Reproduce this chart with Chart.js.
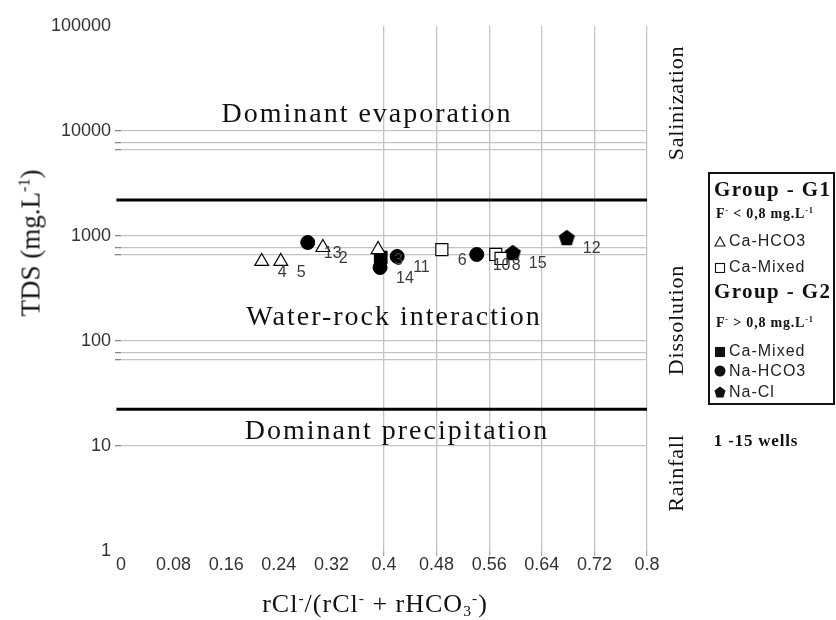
<!DOCTYPE html>
<html><head><meta charset="utf-8">
<script src="https://cdn.jsdelivr.net/npm/chart.js@4"></script>
<style>
html,body{margin:0;padding:0;background:#fff;}
#wrap{position:relative;width:836px;height:620px;overflow:hidden;background:#fff;}
#c{position:absolute;left:0;top:0;}
.t{position:absolute;font-family:"Liberation Serif","Times New Roman",serif;color:#111;white-space:nowrap;line-height:1;transform:translate(-50%,-50%);}
.r{transform:translate(-50%,-50%) rotate(-90deg);}
sup,sub{font-size:0.6em;line-height:0;}
sup{vertical-align:0.6em;}
sub{vertical-align:-0.25em;}
#legend{position:absolute;left:708px;top:172px;width:127px;height:233px;border:2px solid #111;box-sizing:border-box;}
.lg{position:absolute;left:4px;white-space:nowrap;line-height:1;color:#111;}
.lgb{font-family:"Liberation Serif",serif;font-weight:bold;}
.lgs{font-family:"Liberation Sans",Arial,sans-serif;font-size:16px;letter-spacing:1px;color:#222;}
.lgs svg{vertical-align:-1px;margin-right:3px;}
</style></head>
<body>
<div id="wrap">
<canvas id="c" width="836" height="620"></canvas>
<div class="t" style="left:367px;top:113px;font-size:28px;letter-spacing:2px;">Dominant evaporation</div>
<div class="t" style="left:394px;top:316px;font-size:28px;letter-spacing:2px;">Water-rock interaction</div>
<div class="t" style="left:397px;top:430px;font-size:28px;letter-spacing:2px;">Dominant precipitation</div>
<div class="t r" style="left:676px;top:103px;font-size:22px;letter-spacing:0.8px;">Salinization</div>
<div class="t r" style="left:676px;top:320px;font-size:22px;letter-spacing:0.8px;">Dissolution</div>
<div class="t r" style="left:676px;top:473px;font-size:22px;letter-spacing:0.8px;">Rainfall</div>
<div class="t r" style="left:31px;top:243px;font-size:27px;">TDS (mg.L<sup>-1</sup>)</div>
<div class="t" style="left:375px;top:604px;font-size:26px;letter-spacing:1px;">rCl<sup>-</sup>/(rCl<sup>-</sup> + rHCO<sub>3</sub><sup>-</sup>)</div>
<div id="legend">
  <div class="lg lgb" style="top:5px;font-size:21px;letter-spacing:1.4px;">Group - G1</div>
  <div class="lg lgb" style="top:33px;font-size:14px;left:6px;letter-spacing:0.8px;">F<sup>-</sup> &lt; 0,8 mg.L<sup>-1</sup></div>
  <div class="lg lgs" style="top:59px;"><svg width="12" height="11"><polygon points="6,1 11,10 1,10" fill="none" stroke="#111" stroke-width="1.1"/></svg>Ca-HCO3</div>
  <div class="lg lgs" style="top:85px;"><svg width="12" height="11"><rect x="1.5" y="1.5" width="9" height="9" fill="none" stroke="#111" stroke-width="1.1"/></svg>Ca-Mixed</div>
  <div class="lg lgb" style="top:107px;font-size:21px;letter-spacing:1.4px;">Group - G2</div>
  <div class="lg lgb" style="top:142px;font-size:14px;left:6px;letter-spacing:0.8px;">F<sup>-</sup> &gt; 0,8 mg.L<sup>-1</sup></div>
  <div class="lg lgs" style="top:169px;"><svg width="12" height="11"><rect x="1" y="1" width="10" height="10" fill="#111"/></svg>Ca-Mixed</div>
  <div class="lg lgs" style="top:189px;"><svg width="12" height="12"><circle cx="6" cy="6" r="5.5" fill="#111"/></svg>Na-HCO3</div>
  <div class="lg lgs" style="top:210px;"><svg width="12" height="12"><polygon points="6,0.5 11.5,4.5 9.5,11.5 2.5,11.5 0.5,4.5" fill="#111"/></svg>Na-Cl</div>
</div>
<div class="t" style="left:756px;top:440px;font-size:17px;font-weight:bold;letter-spacing:0.8px;">1 -15 wells</div>
</div>
<script>
// ---------- data ----------
const xTickValues = [0, 0.08, 0.16, 0.24, 0.32, 0.4, 0.48, 0.56, 0.64, 0.72, 0.8];
const xTickLabels = ['0', '0.08', '0.16', '0.24', '0.32', '0.4', '0.48', '0.56', '0.64', '0.72', '0.8'];
const yTickValues = [1, 10, 67, 78, 100, 670, 780, 1000, 6700, 7800, 10000, 100000];
const yTickLabels = ['1', '10', '', '', '100', '', '', '1000', '', '', '10000', '100000'];
const zoneLimits = [22.4, 2200];          // precipitation / evaporation limits (TDS)
const zoneLineRatio = [-0.007, 0.8];

const wellsCaHCO3G1 = ['4', '5', '2', '3'];
const ratioCaHCO3G1 = [0.214, 0.243, 0.307, 0.391];
const tdsCaHCO3G1   = [572, 572, 777, 743];

const wellsCaMixedG1 = ['6', '8', ''];
const ratioCaMixedG1 = [0.488, 0.570, 0.578];
const tdsCaMixedG1   = [743, 667, 611];

const wellsCaMixedG2 = [''];
const ratioCaMixedG2 = [0.395];
const tdsCaMixedG2   = [624];

const wellsNaHCO3 = ['13', '14', '11', '10'];
const ratioNaHCO3 = [0.284, 0.394, 0.420, 0.541];
const tdsNaHCO3   = [867, 501, 638, 667];

const wellsNaCl = ['15', '12'];
const ratioNaCl = [0.596, 0.678];
const tdsNaCl   = [697, 968];

// ---------- helpers ----------
const pts = (xs, ys) => xs.map((x, i) => ({x: x, y: ys[i]}));
function pentagon(r) {
  const c = document.createElement('canvas');
  c.width = c.height = Math.ceil(r * 2 + 2);
  const g = c.getContext('2d');
  const cx = c.width / 2, cy = c.height / 2 + 0.8;
  g.beginPath();
  for (let k = 0; k < 5; k++) {
    const a = -Math.PI / 2 + k * 2 * Math.PI / 5;
    const px = cx + r * Math.cos(a), py = cy + r * Math.sin(a);
    k ? g.lineTo(px, py) : g.moveTo(px, py);
  }
  g.closePath();
  g.fillStyle = '#000';
  g.fill();
  return c;
}

const wellLabels = {
  id: 'wellLabels',
  afterDatasetsDraw(chart) {
    const ctx = chart.ctx;
    ctx.save();
    ctx.font = '16px "Liberation Sans", Arial, sans-serif';
    ctx.fillStyle = '#3a3a3a';
    ctx.textAlign = 'left';
    ctx.textBaseline = 'middle';
    chart.data.datasets.forEach((ds, i) => {
      if (!ds.wellLabels) return;
      chart.getDatasetMeta(i).data.forEach((el, j) => {
        const t = ds.wellLabels[j];
        if (t) ctx.fillText(t, el.x + 16, el.y + 11);
      });
    });
    ctx.restore();
  }
};

const zoneLine = (v) => ({
  type: 'line',
  data: zoneLineRatio.map(x => ({x: x, y: v})),
  borderColor: '#000', borderWidth: 3, pointRadius: 0, clip: false, order: 10
});

new Chart(document.getElementById('c'), {
  type: 'scatter',
  data: {
    datasets: [
      zoneLine(zoneLimits[0]),
      zoneLine(zoneLimits[1]),
      {label: 'Ca-HCO3 G1', data: pts(ratioCaHCO3G1, tdsCaHCO3G1), wellLabels: wellsCaHCO3G1,
       pointStyle: 'triangle', pointRadius: 8, backgroundColor: '#fff', borderColor: '#000', borderWidth: 1.2},
      {label: 'Ca-Mixed G1', data: pts(ratioCaMixedG1, tdsCaMixedG1), wellLabels: wellsCaMixedG1,
       pointStyle: 'rect', pointRadius: 8.5, backgroundColor: '#fff', borderColor: '#000', borderWidth: 1.2},
      {label: 'Ca-Mixed G2', data: pts(ratioCaMixedG2, tdsCaMixedG2), wellLabels: wellsCaMixedG2,
       pointStyle: 'rect', pointRadius: 9, backgroundColor: '#000', borderColor: '#000', borderWidth: 1},
      {label: 'Na-HCO3', data: pts(ratioNaHCO3, tdsNaHCO3), wellLabels: wellsNaHCO3,
       pointStyle: 'circle', pointRadius: 7, backgroundColor: '#000', borderColor: '#000', borderWidth: 1},
      {label: 'Na-Cl', data: pts(ratioNaCl, tdsNaCl), wellLabels: wellsNaCl,
       pointStyle: pentagon(8.5), pointRadius: 8, backgroundColor: '#000', borderColor: '#000'}
    ]
  },
  options: {
    responsive: false,
    animation: false,
    layout: {padding: {left: 0, right: 189, top: 26, bottom: 0}},
    plugins: {legend: {display: false}, tooltip: {enabled: false}},
    scales: {
      x: {
        type: 'linear', min: 0, max: 0.8,
        afterBuildTicks: s => { s.ticks = xTickValues.map(v => ({value: v})); },
        afterFit: s => { s.height = 69; s.paddingLeft = 0; s.paddingRight = 0; },
        border: {display: false},
        grid: {
          color: c => (c.tick && c.tick.value >= 0.399) ? '#c4c4c4' : 'rgba(0,0,0,0)',
          tickColor: c => (c.tick && c.tick.value >= 0.399) ? '#aaaaaa' : 'rgba(0,0,0,0)',
          lineWidth: 1.3, tickLength: 5, drawTicks: true
        },
        ticks: {
          autoSkip: false, maxRotation: 0, padding: -2, color: '#333',
          font: {family: '"Liberation Sans", Arial, sans-serif', size: 18},
          callback: (v, i) => xTickLabels[i]
        }
      },
      y: {
        type: 'logarithmic', min: 1, max: 100000,
        afterBuildTicks: s => { s.ticks = yTickValues.map(v => ({value: v})); },
        afterFit: s => { s.width = 121; s.paddingTop = 0; s.paddingBottom = 0; },
        border: {display: false},
        grid: {
          color: c => (c.tick && c.tick.value > 1 && c.tick.value < 100000) ? '#c4c4c4' : 'rgba(0,0,0,0)',
          tickColor: c => (c.tick && c.tick.value > 1 && c.tick.value < 100000) ? '#888888' : 'rgba(0,0,0,0)',
          lineWidth: 1.3, tickLength: 6, drawTicks: true
        },
        ticks: {
          autoSkip: false, padding: 4, color: '#333',
          font: {family: '"Liberation Sans", Arial, sans-serif', size: 18},
          callback: (v, i) => yTickLabels[i]
        }
      }
    }
  },
  plugins: [wellLabels]
});
</script>
</body></html>
